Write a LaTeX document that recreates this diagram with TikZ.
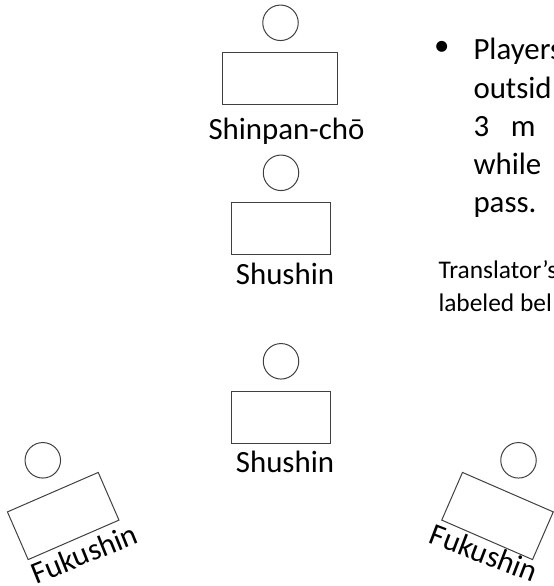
\documentclass[tikz,border=0pt]{standalone}
\usepackage{fontspec}
\setmainfont{Carlito}
\usetikzlibrary{positioning}

\begin{document}
\begin{tikzpicture}[
        x=1bp, y=-1bp,
        head/.style={circle, draw=black!75, line width=1bp, minimum size=35.5bp, inner sep=0pt},
        desk/.style={rectangle, draw=black!75, line width=1bp, minimum width=99bp, minimum height=52bp, inner sep=0pt},
        role/.style={font=\fontsize{31}{37}\selectfont, inner sep=0pt, anchor=base},
        note/.style={font=\fontsize{31}{38}\selectfont, inner sep=0pt, anchor=base west},
        small/.style={font=\fontsize{25.5}{33}\selectfont, inner sep=0pt, anchor=base west},
    ]

    \useasboundingbox (0,0) rectangle (554,586);
    \clip (0,0) rectangle (554,586);

    % Draw the chief judge
    \node[head] (C-head) at (280.5,22.8) {};
    \node[desk, minimum width=115bp] (C-desk) at (280.2,78.3) {};
    \node[role] (C-label) at (286.5,139.3) {Shinpan-chō};

    % Draw the two main judges
    \foreach \name / \y in {1/0, 2/188.5}
    {
        \node[head] (S\name-head) at (281,172.8+\y) {};
        \node[desk] (S\name-desk) at (280.5,228.8+\y) {};
        \node[role] (S\name-label) at (285,284.3+\y) {Shushin};
    }

    % Draw the two side judges, turned inwards
    \foreach \name / \hx / \dx / \a / \lx / \ly / \t in {L/42.8/63.2/23.5/88/563.5/22, R/518.5/497.5/-23.5/480/562.5/-21}
    {
        \node[head] (F\name-head) at (\hx,460.3) {};
        \node[desk, rotate=\a] (F\name-desk) at (\dx,516) {};
        \node[role, rotate=\t] (F\name-label) at (\lx,\ly) {Fukushin};
    }

    % Draw the notes on the right
    \node[font=\fontsize{31}{38}\selectfont, inner sep=0pt] (bullet) at (441.7,48.3) {\textbullet};
    \foreach \txt [count=\i] in {Players, outsid, 3\hspace{0.7em}m, while, pass.}
        \node[note] (rule-\i) at (473.3,21.8+38.2*\i) {\txt};

    \node[small] (tn-1) at (438.3,278.3) {Translator’s};
    \node[small] (tn-2) at (438.3,311.7) {labeled bel};
\end{tikzpicture}
\end{document}
